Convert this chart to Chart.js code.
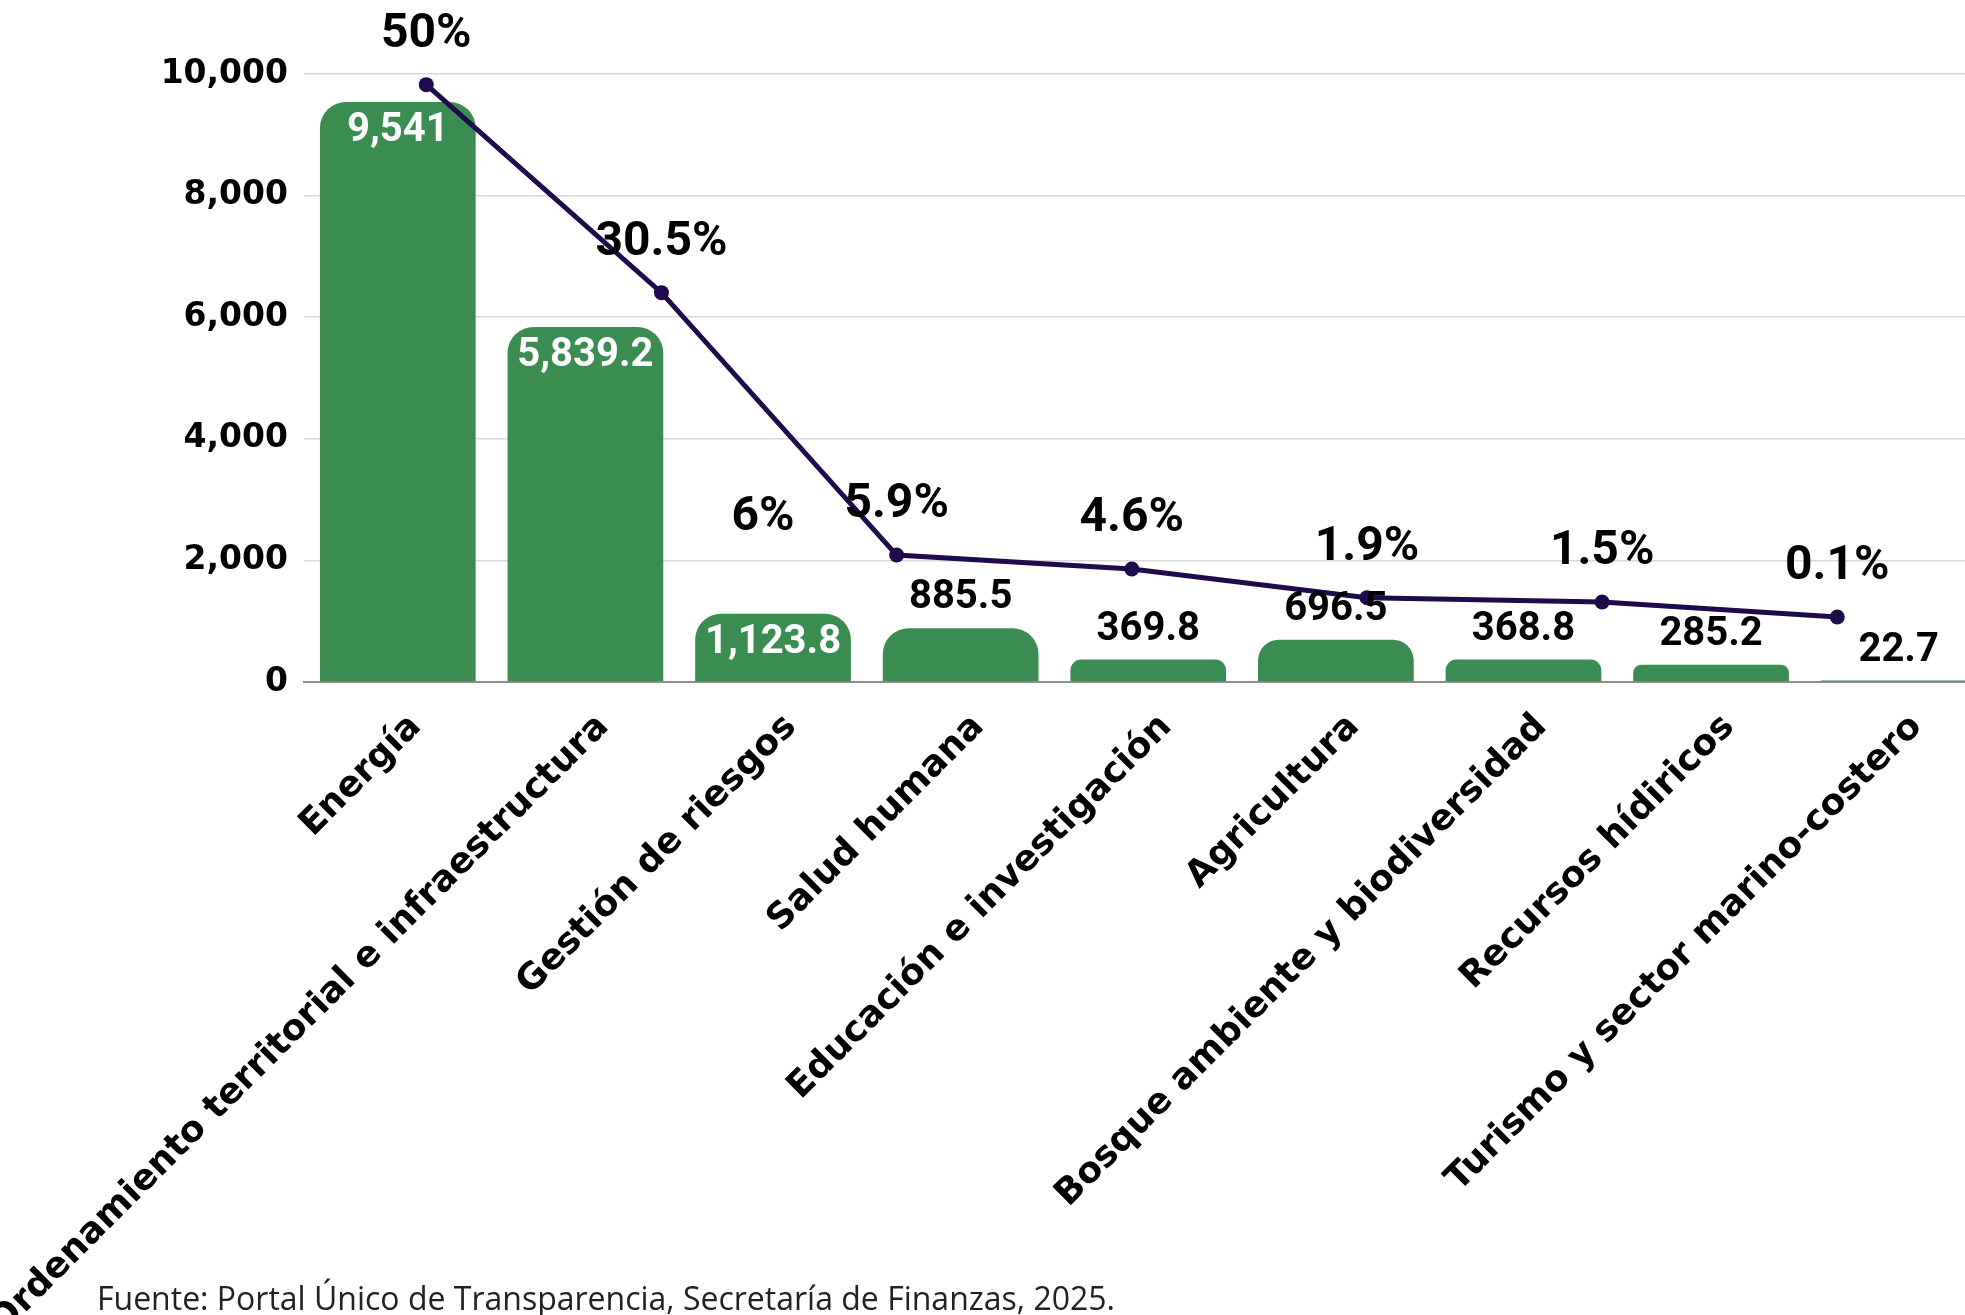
<!DOCTYPE html>
<html>
<head>
  <meta charset="utf-8">
  <title>Monto por sector</title>
  <script src="https://cdn.jsdelivr.net/npm/chart.js"></script>
  <style>
    body {
      margin: 0;
      padding: 0;
      width: 1965px;
      height: 1315px;
      overflow: hidden;
      background: #fff;
      position: relative;
    }
    #wrap {
      position: absolute;
      left: 0;
      top: 0;
      width: 2000px;
      height: 1315px;
    }
    #fuente {
      position: absolute;
      left: 97px;
      top: 1276px;
      font-family: "Open Sans", sans-serif;
      font-size: 32px;
      color: #222;
      white-space: nowrap;
    }
  </style>
</head>
<body>
  <div id="wrap"><canvas id="grafica" width="2000" height="1315"></canvas></div>
  <div id="fuente">Fuente: Portal Único de Transparencia, Secretaría de Finanzas, 2025.</div>

  <script>
    // datos
    const sectores = [
      'Energía',
      'Ordenamiento territorial e infraestructura',
      'Gestión de riesgos',
      'Salud humana',
      'Educación e investigación',
      'Agricultura',
      'Bosque ambiente y biodiversidad',
      'Recursos hídiricos',
      'Turismo y sector marino-costero'
    ];
    const montos = [9541, 5839.2, 1123.8, 885.5, 369.8, 696.5, 368.8, 285.2, 22.7];
    const porcentajes = [50, 30.5, 5.9, 4.6, 1.9, 1.5, 0.1];
    const notasBarra = ['', '', '6%', '', '', '', '', '', ''];
    const ticksY = [0, 2000, 4000, 6000, 8000, 10000];

    const verde = '#3a8c50';
    const morado = '#1f0b4b';
    const fmt = new Intl.NumberFormat('en-US', { maximumFractionDigits: 1 });

    // etiquetas de barras y porcentajes
    const etiquetas = {
      id: 'etiquetas',
      afterDatasetsDraw(chart) {
        const ctx = chart.ctx;
        const barras = chart.getDatasetMeta(0).data;
        const puntos = chart.getDatasetMeta(1).data;
        ctx.save();
        ctx.textAlign = 'center';
        ctx.textBaseline = 'middle';
        barras.forEach((b, i) => {
          const v = montos[i];
          const dentro = v > 1000;
          ctx.font = 'bold 40px Roboto';
          ctx.fillStyle = dentro ? '#fff' : '#000';
          ctx.fillText(fmt.format(v), b.x, dentro ? b.y + 29 : b.y - 30);
          if (notasBarra[i]) {
            ctx.font = 'bold 48px Roboto';
            ctx.fillStyle = '#000';
            ctx.fillText(notasBarra[i], b.x - 10, b.y - 96);
          }
        });
        ctx.font = 'bold 48px Roboto';
        ctx.fillStyle = '#000';
        puntos.forEach((p, i) => {
          ctx.fillText(porcentajes[i] + '%', p.x, p.y - 50);
        });
        ctx.restore();
      }
    };

    const ctx = document.getElementById('grafica').getContext('2d');
    new Chart(ctx, {
      data: {
        labels: sectores,
        datasets: [
          {
            type: 'bar',
            data: montos,
            backgroundColor: verde,
            borderRadius: { topLeft: 26, topRight: 26 },
            borderSkipped: 'bottom',
            grouped: false,
            categoryPercentage: 1,
            barPercentage: 0.83,
            xAxisID: 'x',
            yAxisID: 'y',
            order: 2
          },
          {
            type: 'line',
            data: porcentajes.map((v, i) => ({ x: i, y: v })),
            borderColor: morado,
            borderWidth: 5,
            pointRadius: 7.5,
            pointBackgroundColor: morado,
            pointBorderWidth: 0,
            tension: 0,
            xAxisID: 'x2',
            yAxisID: 'y2',
            order: 1
          }
        ]
      },
      options: {
        responsive: false,
        animation: false,
        layout: { padding: { top: 74, left: 154, right: 4, bottom: 0 } },
        plugins: {
          legend: { display: false },
          tooltip: { enabled: false }
        },
        scales: {
          x: {
            type: 'category',
            offset: true,
            grid: { display: false },
            border: { display: true, color: '#8f8f8f', width: 2 },
            ticks: {
              color: '#000',
              font: { family: 'DejaVu Sans', weight: 'bold', size: 36 },
              maxRotation: 45,
              minRotation: 45,
              autoSkip: false,
              padding: 16,
              labelOffset: 18
            },
            afterFit: (s) => { s.height = 633; }
          },
          x2: {
            type: 'linear',
            display: false,
            min: -0.52,
            max: 6.66
          },
          y: {
            min: ticksY[0],
            max: ticksY[ticksY.length - 1],
            grid: { color: '#d9d9d9', lineWidth: 1.5, drawTicks: false },
            border: { display: false },
            ticks: {
              stepSize: ticksY[1] - ticksY[0],
              color: '#000',
              padding: 16,
              font: { family: 'DejaVu Sans', weight: 'bold', size: 33 },
              callback: (v) => fmt.format(v)
            },
            afterFit: (s) => { s.width = 150; }
          },
          y2: {
            display: false,
            min: -6,
            max: 51
          }
        }
      },
      plugins: [etiquetas]
    });
  </script>
</body>
</html>
